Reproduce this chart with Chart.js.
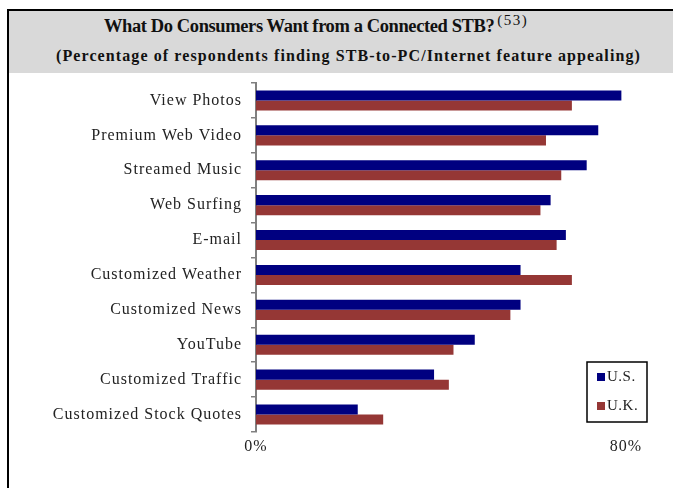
<!DOCTYPE html>
<html>
<head>
<meta charset="utf-8">
<script src="https://cdn.jsdelivr.net/npm/chart.js@4"></script>
<style>
  html, body { margin: 0; padding: 0; background: #fff; }
  #wrap { position: relative; width: 673px; height: 488px; overflow: hidden; }
  #frame { position: absolute; left: 7px; top: 9px; width: 670px; height: 490px;
           border-left: 2px solid #000; border-top: 2px solid #000; }
  #head { position: absolute; left: 9px; top: 11px; width: 664px; height: 62px;
          background: #d9d9d9; font-family: 'Liberation Serif', serif; color: #111;
          font-weight: bold; white-space: nowrap; }
  #head .t1 { position: absolute; left: 95px; top: 5px; font-size: 18.5px; letter-spacing: -0.4px; }
  #head .t1 sup { font-weight: normal; font-size: 15px; letter-spacing: 1.5px;
                  vertical-align: 7px; line-height: 0; margin-left: 3px; }
  #head .t2 { position: absolute; left: 47px; top: 36px; font-size: 16px; letter-spacing: 1.1px; }
  canvas { position: absolute; left: 0; top: 0; }
</style>
</head>
<body>
<div id="wrap">
  <div id="frame"></div>
  <div id="head">
    <div class="t1">What Do Consumers Want from a Connected STB?<sup>(53)</sup></div>
    <div class="t2">(Percentage of respondents finding STB-to-PC/Internet feature appealing)</div>
  </div>
  <canvas id="stbChart" width="673" height="488"></canvas>
</div>
<script>
// survey results, % of respondents
const features = ['View Photos', 'Premium Web Video', 'Streamed Music', 'Web Surfing', 'E-mail',
  'Customized Weather', 'Customized News', 'YouTube', 'Customized Traffic', 'Customized Stock Quotes'];
const usValues = [79, 74, 71.5, 63.7, 67, 57.2, 57.2, 47.3, 38.5, 22];
const ukValues = [68.3, 62.7, 66, 61.5, 65, 68.3, 55, 42.7, 41.7, 27.5];
const axisTicks = [0, 80];

const serif = "'Liberation Serif', serif";

// the serif labels are set a bit loose
const looseText = {
  id: 'looseText',
  beforeDraw(chart) { chart.ctx.letterSpacing = '1px'; }
};

// little boxed legend sitting in the lower right of the plot
const boxLegend = {
  id: 'boxLegend',
  afterDraw(chart) {
    const c = chart.ctx;
    const x = 587, y = 362, w = 60, h = 60;
    c.save();
    c.fillStyle = '#fff';
    c.fillRect(x, y, w, h);
    c.strokeStyle = '#000';
    c.lineWidth = 1.5;
    c.strokeRect(x, y, w, h);
    c.font = '15px ' + serif;
    c.letterSpacing = '0.5px';
    c.textBaseline = 'middle';
    chart.data.datasets.forEach((ds, i) => {
      const cy = y + 15 + i * 29;
      c.fillStyle = ds.backgroundColor;
      c.fillRect(x + 10, cy - 4, 8, 8);
      c.fillStyle = '#222';
      c.fillText(ds.label, x + 20, cy);
    });
    c.restore();
  }
};

new Chart(document.getElementById('stbChart'), {
  type: 'bar',
  data: {
    labels: features,
    datasets: [
      { label: 'U.S.', data: usValues, backgroundColor: '#000080' },
      { label: 'U.K.', data: ukValues, backgroundColor: '#953735' }
    ]
  },
  options: {
    indexAxis: 'y',
    responsive: false,
    animation: false,
    categoryPercentage: 0.575,
    barPercentage: 1,
    layout: { padding: { top: 83, right: 47, bottom: 0, left: 0 } },
    plugins: { legend: { display: false }, tooltip: { enabled: false } },
    scales: {
      x: {
        min: axisTicks[0],
        max: axisTicks[1],
        afterBuildTicks: (s) => { s.ticks = axisTicks.map(v => ({ value: v })); },
        afterFit: (s) => { s.height = 56; },
        grid: { display: false, drawTicks: false },
        border: { display: false },
        ticks: { padding: 5, color: '#222', font: { family: serif, size: 16 }, callback: v => v + '%' }
      },
      y: {
        afterFit: (s) => { s.width = 256; },
        grid: { drawOnChartArea: false, tickLength: 5, color: '#808080', lineWidth: 1.5 },
        border: { color: '#808080', width: 2 },
        ticks: { padding: 9, color: '#222', font: { family: serif, size: 16 } }
      }
    }
  },
  plugins: [looseText, boxLegend]
});
</script>
</body>
</html>
